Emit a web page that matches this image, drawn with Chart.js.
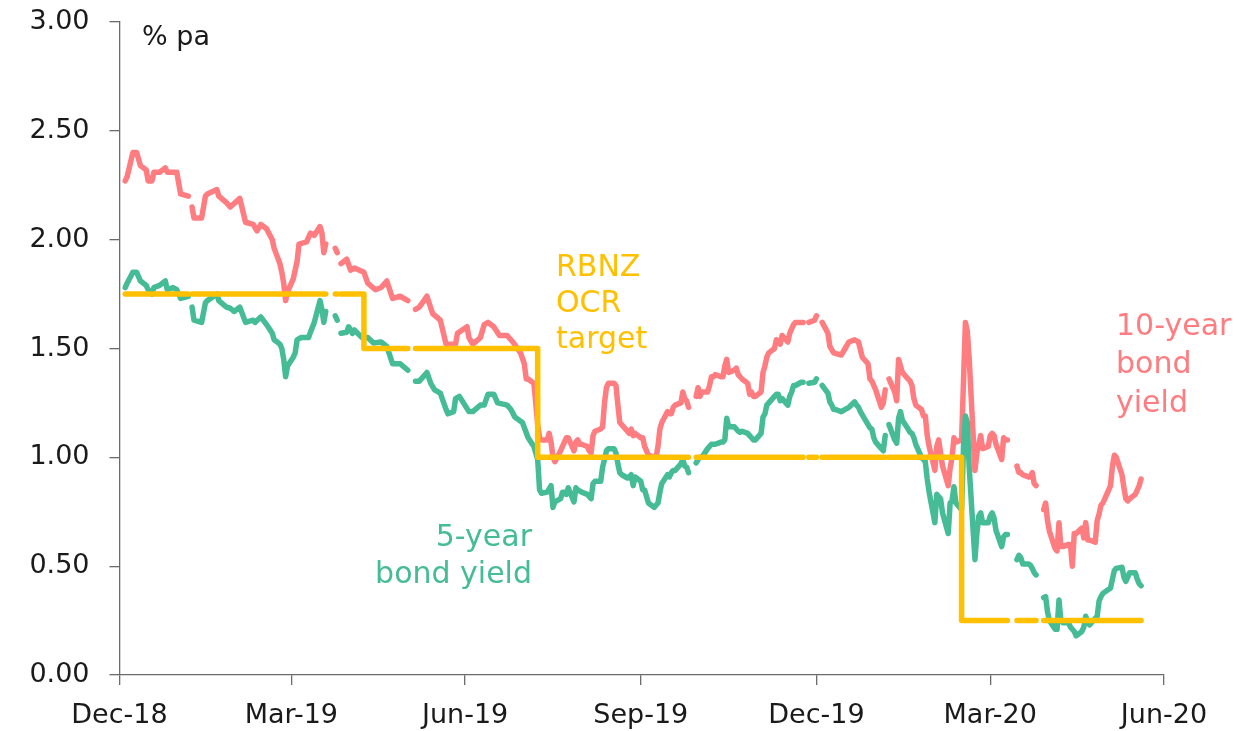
<!DOCTYPE html>
<html>
<head>
<meta charset="utf-8">
<title>NZ bond yields and the OCR</title>
<script src="https://cdn.jsdelivr.net/npm/chart.js@4.4.1/dist/chart.umd.min.js"></script>
<style>
  html, body { margin: 0; padding: 0; background: #fff; }
  canvas { display: block; }
</style>
</head>
<body>
<canvas id="yields" width="1258" height="731"></canvas>
<script>
// x axis: quarter-end ticks
const tickDates = ['2018-12-31', '2019-03-31', '2019-06-30', '2019-09-30', '2019-12-31', '2020-03-31', '2020-06-30'];
const tickLabels = ['Dec-18', 'Mar-19', 'Jun-19', 'Sep-19', 'Dec-19', 'Mar-20', 'Jun-20'];

// RBNZ OCR decisions (date the new rate starts) and trading range
const ocrDecisions = ['2019-01-03', '2019-05-08', '2019-08-07', '2020-03-16'];
const ocrRates = [1.75, 1.50, 1.00, 0.25];
const firstDay = '2019-01-03';
const lastDay = '2020-06-18';

// NZ public holidays: no market data
const holidays = ['2019-02-06', '2019-04-19', '2019-04-22', '2019-04-25', '2019-06-03', '2019-10-28',
  '2019-12-25', '2019-12-26', '2020-01-01', '2020-01-02', '2020-02-06', '2020-04-10', '2020-04-13', '2020-04-27'];

// 10-year government bond yield, % pa
const tenYear = [
  ['2019-01-03', 2.27], ['2019-01-04', 2.29], ['2019-01-07', 2.40], ['2019-01-09', 2.40], ['2019-01-11', 2.34],
  ['2019-01-14', 2.32], ['2019-01-15', 2.27], ['2019-01-17', 2.27], ['2019-01-18', 2.31], ['2019-01-21', 2.31],
  ['2019-01-24', 2.33], ['2019-01-25', 2.31], ['2019-01-28', 2.31], ['2019-01-30', 2.31], ['2019-02-01', 2.21],
  ['2019-02-05', 2.20], ['2019-02-06', null], ['2019-02-07', 2.15], ['2019-02-08', 2.10], ['2019-02-12', 2.10],
  ['2019-02-14', 2.20], ['2019-02-15', 2.21], ['2019-02-20', 2.23], ['2019-02-21', 2.20], ['2019-02-25', 2.17],
  ['2019-02-27', 2.15], ['2019-03-04', 2.19], ['2019-03-07', 2.08], ['2019-03-11', 2.07], ['2019-03-13', 2.04],
  ['2019-03-15', 2.07], ['2019-03-18', 2.05], ['2019-03-21', 2.00], ['2019-03-22', 1.96], ['2019-03-25', 1.89],
  ['2019-03-26', 1.85], ['2019-03-27', 1.80], ['2019-03-28', 1.72], ['2019-03-29', 1.76], ['2019-04-01', 1.82],
  ['2019-04-03', 1.90], ['2019-04-04', 1.98], ['2019-04-08', 1.99], ['2019-04-10', 2.03], ['2019-04-12', 2.02],
  ['2019-04-15', 2.06], ['2019-04-16', 2.03], ['2019-04-17', 1.94], ['2019-04-18', 1.98], ['2019-04-19', null],
  ['2019-04-23', 1.96], ['2019-04-24', 1.94], ['2019-04-25', null], ['2019-04-26', 1.89], ['2019-04-29', 1.91],
  ['2019-05-01', 1.86], ['2019-05-03', 1.87], ['2019-05-08', 1.85], ['2019-05-10', 1.80], ['2019-05-14', 1.77],
  ['2019-05-17', 1.78], ['2019-05-20', 1.81], ['2019-05-23', 1.73], ['2019-05-27', 1.74], ['2019-05-31', 1.72],
  ['2019-06-03', null], ['2019-06-04', 1.68], ['2019-06-06', 1.69], ['2019-06-10', 1.74], ['2019-06-13', 1.66],
  ['2019-06-17', 1.63], ['2019-06-20', 1.52], ['2019-06-25', 1.52], ['2019-06-26', 1.57], ['2019-07-01', 1.60],
  ['2019-07-02', 1.55], ['2019-07-04', 1.52], ['2019-07-08', 1.55], ['2019-07-10', 1.61], ['2019-07-12', 1.62],
  ['2019-07-15', 1.60], ['2019-07-18', 1.56], ['2019-07-22', 1.56], ['2019-07-25', 1.53], ['2019-07-29', 1.48],
  ['2019-07-31', 1.43], ['2019-08-01', 1.36], ['2019-08-02', 1.36], ['2019-08-05', 1.34], ['2019-08-06', 1.25],
  ['2019-08-07', 1.15], ['2019-08-08', 1.09], ['2019-08-09', 1.08], ['2019-08-12', 1.08], ['2019-08-13', 1.11],
  ['2019-08-14', 1.07], ['2019-08-15', 1.00], ['2019-08-16', 0.98], ['2019-08-19', 1.03], ['2019-08-20', 1.05],
  ['2019-08-21', 1.07], ['2019-08-22', 1.09], ['2019-08-23', 1.09], ['2019-08-26', 1.03], ['2019-08-27', 1.07],
  ['2019-08-28', 1.08], ['2019-08-29', 1.06], ['2019-08-30', 1.06], ['2019-09-02', 1.05], ['2019-09-03', 1.03],
  ['2019-09-04', 1.02], ['2019-09-05', 1.10], ['2019-09-06', 1.12], ['2019-09-09', 1.13], ['2019-09-10', 1.14],
  ['2019-09-11', 1.25], ['2019-09-12', 1.32], ['2019-09-13', 1.34], ['2019-09-16', 1.34], ['2019-09-17', 1.33],
  ['2019-09-18', 1.24], ['2019-09-19', 1.16], ['2019-09-20', 1.15], ['2019-09-23', 1.12], ['2019-09-24', 1.11],
  ['2019-09-25', 1.13], ['2019-09-26', 1.10], ['2019-09-27', 1.11], ['2019-09-30', 1.09], ['2019-10-01', 1.09],
  ['2019-10-02', 1.05], ['2019-10-03', 1.03], ['2019-10-04', 1.01], ['2019-10-07', 1.00], ['2019-10-08', 1.00],
  ['2019-10-09', 1.05], ['2019-10-10', 1.13], ['2019-10-11', 1.16], ['2019-10-14', 1.21], ['2019-10-15', 1.20],
  ['2019-10-16', 1.20], ['2019-10-17', 1.23], ['2019-10-18', 1.24], ['2019-10-21', 1.25], ['2019-10-22', 1.30],
  ['2019-10-23', 1.27], ['2019-10-24', 1.26], ['2019-10-25', 1.23], ['2019-10-28', null], ['2019-10-29', 1.28],
  ['2019-10-30', 1.32], ['2019-10-31', 1.28], ['2019-11-01', 1.30], ['2019-11-04', 1.30], ['2019-11-05', 1.33],
  ['2019-11-06', 1.37], ['2019-11-07', 1.37], ['2019-11-08', 1.38], ['2019-11-11', 1.37], ['2019-11-12', 1.37],
  ['2019-11-13', 1.42], ['2019-11-14', 1.45], ['2019-11-15', 1.39], ['2019-11-18', 1.40], ['2019-11-19', 1.41],
  ['2019-11-20', 1.38], ['2019-11-21', 1.37], ['2019-11-22', 1.36], ['2019-11-25', 1.34], ['2019-11-26', 1.29],
  ['2019-11-27', 1.30], ['2019-11-28', 1.28], ['2019-11-29', 1.28], ['2019-12-02', 1.30], ['2019-12-03', 1.39],
  ['2019-12-04', 1.42], ['2019-12-05', 1.46], ['2019-12-06', 1.48], ['2019-12-09', 1.50], ['2019-12-10', 1.54],
  ['2019-12-11', 1.53], ['2019-12-12', 1.52], ['2019-12-13', 1.56], ['2019-12-16', 1.53], ['2019-12-17', 1.57],
  ['2019-12-18', 1.59], ['2019-12-19', 1.61], ['2019-12-20', 1.62], ['2019-12-23', 1.62], ['2019-12-24', 1.62],
  ['2019-12-25', null], ['2019-12-27', 1.62], ['2019-12-30', 1.63], ['2019-12-31', 1.65], ['2020-01-01', null],
  ['2020-01-03', 1.62], ['2020-01-06', 1.57], ['2020-01-07', 1.51], ['2020-01-09', 1.48], ['2020-01-13', 1.47],
  ['2020-01-15', 1.50], ['2020-01-17', 1.53], ['2020-01-20', 1.54], ['2020-01-22', 1.53], ['2020-01-24', 1.46],
  ['2020-01-27', 1.43], ['2020-01-28', 1.36], ['2020-01-29', 1.35], ['2020-01-31', 1.31], ['2020-02-03', 1.23],
  ['2020-02-04', 1.25], ['2020-02-05', 1.31], ['2020-02-06', null], ['2020-02-07', 1.36], ['2020-02-10', 1.30],
  ['2020-02-11', 1.26], ['2020-02-12', 1.45], ['2020-02-13', 1.42], ['2020-02-14', 1.39], ['2020-02-17', 1.36],
  ['2020-02-18', 1.35], ['2020-02-19', 1.33], ['2020-02-20', 1.27], ['2020-02-21', 1.24], ['2020-02-24', 1.22],
  ['2020-02-25', 1.19], ['2020-02-26', 1.19], ['2020-02-27', 1.10], ['2020-02-28', 1.05], ['2020-03-02', 0.94],
  ['2020-03-03', 1.05], ['2020-03-04', 1.08], ['2020-03-05', 1.02], ['2020-03-06', 0.96], ['2020-03-09', 0.87],
  ['2020-03-10', 0.95], ['2020-03-11', 1.00], ['2020-03-12', 1.09], ['2020-03-13', 1.07], ['2020-03-16', 1.08],
  ['2020-03-17', 1.35], ['2020-03-18', 1.62], ['2020-03-19', 1.58], ['2020-03-20', 1.45], ['2020-03-23', 0.94],
  ['2020-03-24', 1.02], ['2020-03-25', 1.06], ['2020-03-26', 1.10], ['2020-03-27', 1.04], ['2020-03-30', 1.05],
  ['2020-03-31', 1.10], ['2020-04-01', 1.11], ['2020-04-02', 1.10], ['2020-04-03', 1.06], ['2020-04-06', 0.99],
  ['2020-04-07', 1.09], ['2020-04-08', 1.08], ['2020-04-09', 1.08], ['2020-04-10', null], ['2020-04-14', 0.96],
  ['2020-04-15', 0.93], ['2020-04-16', 0.93], ['2020-04-17', 0.92], ['2020-04-20', 0.91], ['2020-04-21', 0.91],
  ['2020-04-22', 0.93], ['2020-04-23', 0.88], ['2020-04-24', 0.87], ['2020-04-27', null], ['2020-04-28', 0.76],
  ['2020-04-29', 0.79], ['2020-04-30', 0.71], ['2020-05-01', 0.66], ['2020-05-04', 0.58], ['2020-05-05', 0.57],
  ['2020-05-06', 0.70], ['2020-05-07', 0.59], ['2020-05-08', 0.59], ['2020-05-11', 0.60], ['2020-05-12', 0.60],
  ['2020-05-13', 0.50], ['2020-05-14', 0.65], ['2020-05-15', 0.65], ['2020-05-18', 0.675], ['2020-05-19', 0.63],
  ['2020-05-20', 0.70], ['2020-05-21', 0.62], ['2020-05-22', 0.62], ['2020-05-25', 0.61], ['2020-05-26', 0.71],
  ['2020-05-27', 0.74], ['2020-05-28', 0.78], ['2020-05-29', 0.79], ['2020-06-02', 0.87], ['2020-06-03', 0.96],
  ['2020-06-04', 1.01], ['2020-06-05', 1.00], ['2020-06-08', 0.92], ['2020-06-09', 0.86], ['2020-06-10', 0.81],
  ['2020-06-11', 0.80], ['2020-06-12', 0.81], ['2020-06-15', 0.83], ['2020-06-16', 0.85], ['2020-06-17', 0.87],
  ['2020-06-18', 0.90]
];

// 5-year government bond yield, % pa
const fiveYear = [
  ['2019-01-03', 1.78], ['2019-01-04', 1.80], ['2019-01-07', 1.85], ['2019-01-09', 1.85], ['2019-01-11', 1.81],
  ['2019-01-14', 1.79], ['2019-01-15', 1.77], ['2019-01-17', 1.75], ['2019-01-18', 1.78], ['2019-01-21', 1.79],
  ['2019-01-24', 1.81], ['2019-01-25', 1.77], ['2019-01-28', 1.78], ['2019-01-30', 1.77], ['2019-02-01', 1.73],
  ['2019-02-05', 1.74], ['2019-02-06', null], ['2019-02-07', 1.69], ['2019-02-08', 1.63], ['2019-02-12', 1.62],
  ['2019-02-14', 1.71], ['2019-02-15', 1.72], ['2019-02-20', 1.75], ['2019-02-21', 1.72], ['2019-02-25', 1.69],
  ['2019-02-27', 1.685], ['2019-03-01', 1.67], ['2019-03-04', 1.69], ['2019-03-07', 1.62], ['2019-03-11', 1.63],
  ['2019-03-12', 1.62], ['2019-03-15', 1.645], ['2019-03-18', 1.61], ['2019-03-21', 1.57], ['2019-03-22', 1.54],
  ['2019-03-25', 1.52], ['2019-03-26', 1.50], ['2019-03-27', 1.45], ['2019-03-28', 1.37], ['2019-03-29', 1.42],
  ['2019-04-01', 1.46], ['2019-04-02', 1.48], ['2019-04-03', 1.54], ['2019-04-05', 1.55], ['2019-04-09', 1.55],
  ['2019-04-10', 1.575], ['2019-04-12', 1.62], ['2019-04-15', 1.72], ['2019-04-16', 1.68], ['2019-04-17', 1.62],
  ['2019-04-18', 1.67], ['2019-04-19', null], ['2019-04-23', 1.65], ['2019-04-24', 1.63], ['2019-04-25', null],
  ['2019-04-26', 1.57], ['2019-04-29', 1.575], ['2019-04-30', 1.60], ['2019-05-02', 1.57], ['2019-05-03', 1.585],
  ['2019-05-07', 1.55], ['2019-05-10', 1.55], ['2019-05-13', 1.525], ['2019-05-17', 1.53], ['2019-05-20', 1.51],
  ['2019-05-23', 1.43], ['2019-05-27', 1.43], ['2019-05-29', 1.415], ['2019-05-31', 1.40], ['2019-06-03', null],
  ['2019-06-04', 1.35], ['2019-06-06', 1.35], ['2019-06-10', 1.39], ['2019-06-12', 1.34], ['2019-06-14', 1.31],
  ['2019-06-17', 1.295], ['2019-06-20', 1.22], ['2019-06-21', 1.20], ['2019-06-24', 1.21], ['2019-06-25', 1.27],
  ['2019-06-27', 1.28], ['2019-07-02', 1.21], ['2019-07-04', 1.21], ['2019-07-08', 1.24], ['2019-07-10', 1.24],
  ['2019-07-12', 1.29], ['2019-07-15', 1.29], ['2019-07-17', 1.25], ['2019-07-22', 1.24], ['2019-07-24', 1.22],
  ['2019-07-26', 1.185], ['2019-07-30', 1.16], ['2019-08-02', 1.09], ['2019-08-05', 1.05], ['2019-08-06', 1.02],
  ['2019-08-07', 0.99], ['2019-08-08', 0.85], ['2019-08-09', 0.835], ['2019-08-12', 0.84], ['2019-08-14', 0.87],
  ['2019-08-15', 0.77], ['2019-08-16', 0.795], ['2019-08-19', 0.81], ['2019-08-20', 0.84], ['2019-08-21', 0.84],
  ['2019-08-22', 0.83], ['2019-08-23', 0.86], ['2019-08-26', 0.795], ['2019-08-27', 0.86], ['2019-08-28', 0.85],
  ['2019-08-30', 0.84], ['2019-09-02', 0.83], ['2019-09-04', 0.81], ['2019-09-05', 0.88], ['2019-09-06', 0.89],
  ['2019-09-09', 0.89], ['2019-09-10', 0.955], ['2019-09-11', 0.99], ['2019-09-12', 1.03], ['2019-09-13', 1.04],
  ['2019-09-16', 1.04], ['2019-09-17', 1.02], ['2019-09-18', 0.97], ['2019-09-19', 0.93], ['2019-09-20', 0.92],
  ['2019-09-23', 0.905], ['2019-09-24', 0.91], ['2019-09-25', 0.92], ['2019-09-26', 0.87], ['2019-09-27', 0.91],
  ['2019-09-30', 0.89], ['2019-10-01', 0.85], ['2019-10-02', 0.85], ['2019-10-03', 0.82], ['2019-10-04', 0.79],
  ['2019-10-07', 0.77], ['2019-10-08', 0.78], ['2019-10-09', 0.79], ['2019-10-10', 0.84], ['2019-10-11', 0.88],
  ['2019-10-14', 0.92], ['2019-10-15', 0.91], ['2019-10-16', 0.93], ['2019-10-17', 0.94], ['2019-10-18', 0.94],
  ['2019-10-21', 0.97], ['2019-10-22', 0.99], ['2019-10-23', 0.96], ['2019-10-24', 0.955], ['2019-10-25', 0.93],
  ['2019-10-28', null], ['2019-10-29', 0.975], ['2019-10-30', 0.99], ['2019-10-31', 1.00], ['2019-11-01', 1.00],
  ['2019-11-04', 1.04], ['2019-11-05', 1.05], ['2019-11-06', 1.06], ['2019-11-07', 1.06], ['2019-11-08', 1.06],
  ['2019-11-11', 1.07], ['2019-11-12', 1.07], ['2019-11-13', 1.08], ['2019-11-14', 1.18], ['2019-11-15', 1.14],
  ['2019-11-18', 1.14], ['2019-11-19', 1.13], ['2019-11-20', 1.12], ['2019-11-21', 1.115], ['2019-11-22', 1.12],
  ['2019-11-25', 1.11], ['2019-11-26', 1.10], ['2019-11-27', 1.09], ['2019-11-28', 1.08], ['2019-11-29', 1.08],
  ['2019-12-02', 1.11], ['2019-12-03', 1.185], ['2019-12-04', 1.20], ['2019-12-05', 1.24], ['2019-12-06', 1.25],
  ['2019-12-09', 1.28], ['2019-12-10', 1.29], ['2019-12-11', 1.29], ['2019-12-12', 1.26], ['2019-12-13', 1.27],
  ['2019-12-16', 1.24], ['2019-12-17', 1.28], ['2019-12-18', 1.30], ['2019-12-19', 1.33], ['2019-12-20', 1.33],
  ['2019-12-23', 1.345], ['2019-12-24', 1.345], ['2019-12-25', null], ['2019-12-27', 1.34], ['2019-12-30', 1.345],
  ['2019-12-31', 1.36], ['2020-01-01', null], ['2020-01-03', 1.33], ['2020-01-06', 1.295], ['2020-01-07', 1.255],
  ['2020-01-08', 1.24], ['2020-01-09', 1.22], ['2020-01-10', 1.22], ['2020-01-13', 1.21], ['2020-01-14', 1.215],
  ['2020-01-15', 1.22], ['2020-01-16', 1.225], ['2020-01-17', 1.23], ['2020-01-20', 1.255], ['2020-01-21', 1.24],
  ['2020-01-22', 1.23], ['2020-01-23', 1.21], ['2020-01-24', 1.195], ['2020-01-27', 1.15], ['2020-01-28', 1.135],
  ['2020-01-29', 1.13], ['2020-01-30', 1.09], ['2020-01-31', 1.07], ['2020-02-03', 1.04], ['2020-02-04', 1.03],
  ['2020-02-05', 1.10], ['2020-02-06', null], ['2020-02-07', 1.15], ['2020-02-10', 1.08], ['2020-02-11', 1.065],
  ['2020-02-12', 1.18], ['2020-02-13', 1.21], ['2020-02-14', 1.17], ['2020-02-17', 1.13], ['2020-02-18', 1.115],
  ['2020-02-19', 1.11], ['2020-02-20', 1.09], ['2020-02-21', 1.06], ['2020-02-24', 1.00], ['2020-02-25', 0.99],
  ['2020-02-26', 0.98], ['2020-02-27', 0.90], ['2020-02-28', 0.84], ['2020-03-02', 0.70], ['2020-03-03', 0.83],
  ['2020-03-04', 0.82], ['2020-03-05', 0.81], ['2020-03-06', 0.745], ['2020-03-09', 0.65], ['2020-03-10', 0.79],
  ['2020-03-11', 0.80], ['2020-03-12', 0.865], ['2020-03-13', 0.79], ['2020-03-16', 0.76], ['2020-03-17', 1.05],
  ['2020-03-18', 1.19], ['2020-03-19', 1.16], ['2020-03-20', 0.95], ['2020-03-23', 0.53], ['2020-03-24', 0.65],
  ['2020-03-25', 0.73], ['2020-03-26', 0.745], ['2020-03-27', 0.70], ['2020-03-30', 0.70], ['2020-03-31', 0.73],
  ['2020-04-01', 0.745], ['2020-04-02', 0.72], ['2020-04-03', 0.665], ['2020-04-06', 0.59], ['2020-04-07', 0.635],
  ['2020-04-08', 0.645], ['2020-04-09', 0.645], ['2020-04-10', null], ['2020-04-14', 0.53], ['2020-04-15', 0.55],
  ['2020-04-16', 0.54], ['2020-04-17', 0.51], ['2020-04-20', 0.51], ['2020-04-21', 0.505], ['2020-04-22', 0.49],
  ['2020-04-23', 0.47], ['2020-04-24', 0.46], ['2020-04-27', null], ['2020-04-28', 0.355], ['2020-04-29', 0.36],
  ['2020-04-30', 0.29], ['2020-05-01', 0.25], ['2020-05-04', 0.21], ['2020-05-05', 0.21], ['2020-05-06', 0.345],
  ['2020-05-07', 0.25], ['2020-05-08', 0.24], ['2020-05-11', 0.24], ['2020-05-12', 0.22], ['2020-05-13', 0.21],
  ['2020-05-14', 0.20], ['2020-05-15', 0.18], ['2020-05-18', 0.20], ['2020-05-19', 0.22], ['2020-05-20', 0.27],
  ['2020-05-21', 0.25], ['2020-05-22', 0.23], ['2020-05-25', 0.26], ['2020-05-26', 0.27], ['2020-05-27', 0.34],
  ['2020-05-28', 0.36], ['2020-05-29', 0.375], ['2020-06-02', 0.40], ['2020-06-03', 0.44], ['2020-06-04', 0.48],
  ['2020-06-05', 0.49], ['2020-06-08', 0.495], ['2020-06-09', 0.45], ['2020-06-10', 0.43], ['2020-06-11', 0.45],
  ['2020-06-12', 0.47], ['2020-06-15', 0.47], ['2020-06-16', 0.44], ['2020-06-17', 0.42], ['2020-06-18', 0.41]
];

const RED = '#FF7C80';
const GREEN = '#45BC95';
const GOLD = '#FFC000';
const INK = '#1a1a1a';
const AXIS = '#6b6b6b';
const FONT = "'DejaVu Sans', sans-serif";
const LINE_WIDTH = 5.5;

const DAY = 86400000;
const EPOCH = Date.UTC(2018, 11, 31);

function dayOf(iso) {
  const [y, m, d] = iso.split('-').map(Number);
  return (Date.UTC(y, m - 1, d) - EPOCH) / DAY;
}

function toPoints(series) {
  return series.map(([date, value]) => ({ x: dayOf(date), y: value }));
}

// OCR on every trading day, stepping at each decision
function ocrSeries() {
  const closed = new Set(holidays.map(dayOf));
  const starts = ocrDecisions.map(dayOf);
  const points = [];
  for (let d = dayOf(firstDay); d <= dayOf(lastDay); d++) {
    const weekday = new Date(EPOCH + d * DAY).getUTCDay();
    if (weekday === 0 || weekday === 6) continue;
    let rate = null;
    starts.forEach((s, i) => { if (d >= s) rate = ocrRates[i]; });
    points.push({ x: d, y: closed.has(d) ? null : rate });
  }
  return points;
}

// in-chart series labels and the unit note
const seriesLabels = [
  { lines: ['RBNZ', 'OCR', 'target'], color: GOLD, align: 'left', x: 556, y: 268, gap: 36 },
  { lines: ['5-year', 'bond yield'], color: GREEN, align: 'right', x: 532, y: 538, gap: 37.5 },
  { lines: ['10-year', 'bond', 'yield'], color: RED, align: 'left', x: 1116, y: 327, gap: 38.5 }
];

const labelPlugin = {
  id: 'seriesLabels',
  afterDraw(chart) {
    const ctx = chart.ctx;
    ctx.save();
    ctx.textBaseline = 'middle';
    ctx.font = '30px ' + FONT;
    seriesLabels.forEach(lbl => {
      ctx.fillStyle = lbl.color;
      ctx.textAlign = lbl.align;
      lbl.lines.forEach((t, i) => ctx.fillText(t, lbl.x, lbl.y + i * lbl.gap));
    });
    ctx.font = '27px ' + FONT;
    ctx.fillStyle = INK;
    ctx.textAlign = 'left';
    ctx.fillText('% pa', 142, 38);
    ctx.restore();
  }
};

const axisGrid = { drawOnChartArea: false, color: AXIS, lineWidth: 1.3, tickLength: 10 };
const axisBorder = { color: AXIS, width: 1.3 };

function lineSet(label, data, color, extra) {
  return Object.assign({
    label, data,
    borderColor: color,
    borderWidth: LINE_WIDTH,
    borderCapStyle: 'round',
    borderJoinStyle: 'round',
    pointRadius: 0,
    tension: 0,
    fill: false
  }, extra);
}

new Chart(document.getElementById('yields'), {
  type: 'line',
  data: {
    datasets: [
      lineSet('RBNZ OCR target', ocrSeries(), GOLD, { stepped: true }),
      lineSet('5-year bond yield', toPoints(fiveYear), GREEN),
      lineSet('10-year bond yield', toPoints(tenYear), RED)
    ]
  },
  options: {
    responsive: false,
    animation: false,
    events: [],
    layout: { padding: { top: 22, right: 94, bottom: 0, left: 0 } },
    plugins: { legend: { display: false }, tooltip: { enabled: false } },
    scales: {
      x: {
        type: 'linear',
        min: 0,
        max: dayOf(tickDates[tickDates.length - 1]),
        afterBuildTicks: scale => { scale.ticks = tickDates.map(t => ({ value: dayOf(t) })); },
        afterFit: scale => { scale.height = 56; },
        grid: axisGrid,
        border: axisBorder,
        ticks: {
          autoSkip: false,
          maxRotation: 0,
          padding: 15,
          color: INK,
          font: { family: FONT, size: 27 },
          callback: (value, i) => tickLabels[i]
        }
      },
      y: {
        min: 0,
        max: 3,
        afterFit: scale => {
          scale.width = 119.5;
          // the label gap is not needed above the top tick
          scale.paddingTop = 0;
          scale.paddingBottom = 0;
        },
        grid: axisGrid,
        border: axisBorder,
        ticks: {
          stepSize: 0.5,
          padding: 20,
          color: INK,
          font: { family: FONT, size: 27 },
          callback: value => value.toFixed(2)
        }
      }
    }
  },
  plugins: [labelPlugin]
});
</script>
</body>
</html>
